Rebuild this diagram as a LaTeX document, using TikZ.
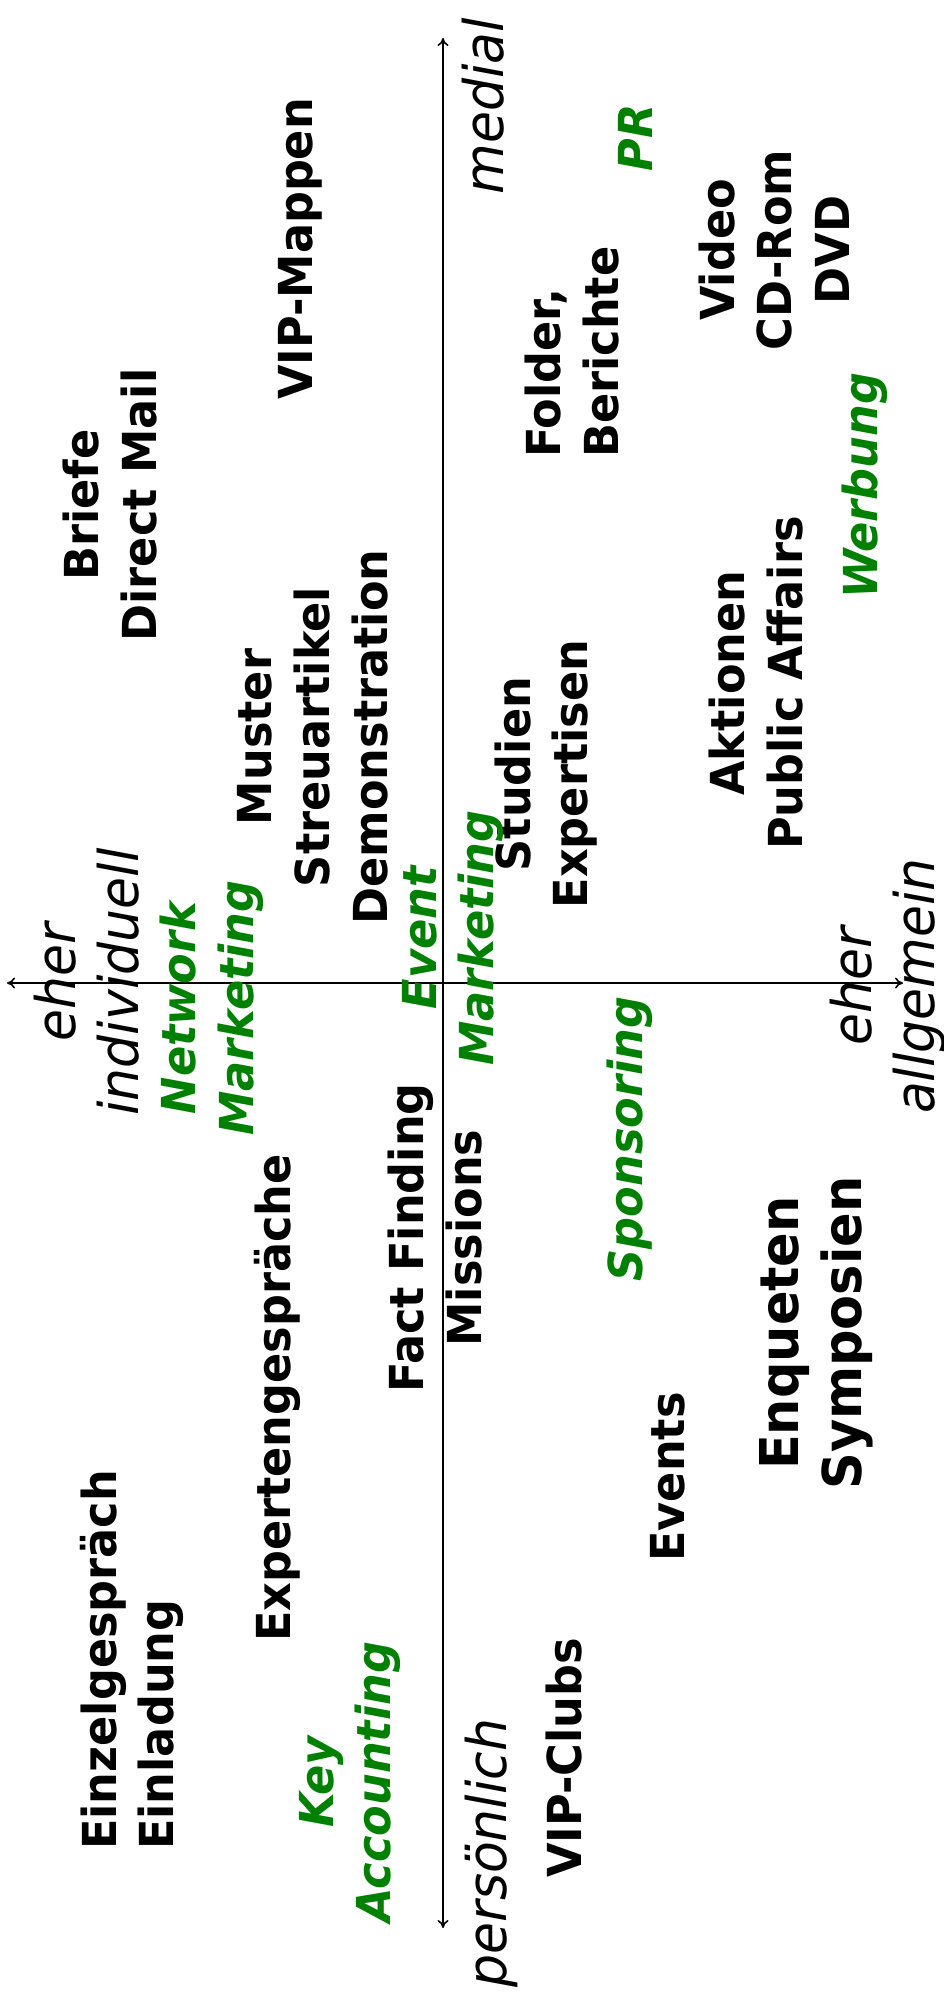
\documentclass[tikz,border=0pt]{standalone}
\usepackage{fontspec}
\setmainfont{DejaVu Sans}
\usetikzlibrary{arrows.meta}
\definecolor{grn}{RGB}{0,128,0}
\tikzset{
  lb/.style={rotate=90, yscale=1.05, inner sep=0pt, align=center,
    font=\bfseries\fontsize{44.6}{55}\selectfont},
  gr/.style={lb, text=grn, font=\bfseries\itshape\fontsize{44.6}{55}\selectfont},
  ax/.style={rotate=90, yscale=1.05, inner sep=0pt, align=center,
    font=\itshape\fontsize{52}{60}\selectfont},
  big/.style={lb, font=\bfseries\fontsize{51}{60}\selectfont},
  axis/.style={line width=1.6pt, {To[length=8pt,width=11pt]}-{To[length=8pt,width=11pt]}}
}
\begin{document}
\begin{tikzpicture}[x=1pt,y=-1pt]
\useasboundingbox (0,0) rectangle (944,2001);
\coordinate (top) at (443,38);
\coordinate (bot) at (443,1928);
\coordinate (lft) at (7,983);
\coordinate (rgt) at (903,983);
\draw[axis] (bot) -- (top);
\draw[axis] (lft) -- (rgt);

\node[ax] (medial) at (483,106) {medial};
\node[gr] (pr) at (635,138) {PR};
\node[lb] (vipm) at (300,249) {VIP-Mappen};
\node[lb] (video) at (774,250) {Video\\CD-Rom\\DVD};
\node[lb, align=left, anchor=west] (folder) at (572,458) {Folder,\\Berichte};
\node[lb] (briefe) at (110,505) {Briefe\\Direct Mail};
\node[gr] (werbung) at (865,486) {Werbung};
\node[lb] (aktionen) at (756,683) {Aktionen\\Public Affairs};
\node[lb] (muster) at (313,737) {Muster\\Streuartikel\\Demonstration};
\node[lb] (studien) at (546,774) {Studien\\Expertisen};
\node[gr] (event) at (453,938) {Event\\Marketing};
\node[ax] (indiv) at (87,982) {eher\\individuell};
\node[gr] (network) at (212,1008) {Network\\Marketing};
\node[ax] (allg) at (888,986) {eher\\allgemein};
\node[gr] (sponsoring) at (630,1139) {Sponsoring};
\node[lb] (fact) at (435,1238) {Fact Finding\\Missions};
\node[lb] (experten) at (277,1398) {Expertengespräche};
\node[big] (enqueten) at (816,1333) {Enqueten\\Symposien};
\node[lb] (events) at (668,1477) {Events};
\node[lb, align=left, anchor=west] (einzel) at (132,1850) {Einzelgespräch\\Einladung};
\node[gr] (key) at (350,1782) {Key\\Accounting};
\node[ax] (pers) at (491,1853) {persönlich};
\node[lb] (vipc) at (564,1758) {VIP-Clubs};
\end{tikzpicture}
\end{document}
